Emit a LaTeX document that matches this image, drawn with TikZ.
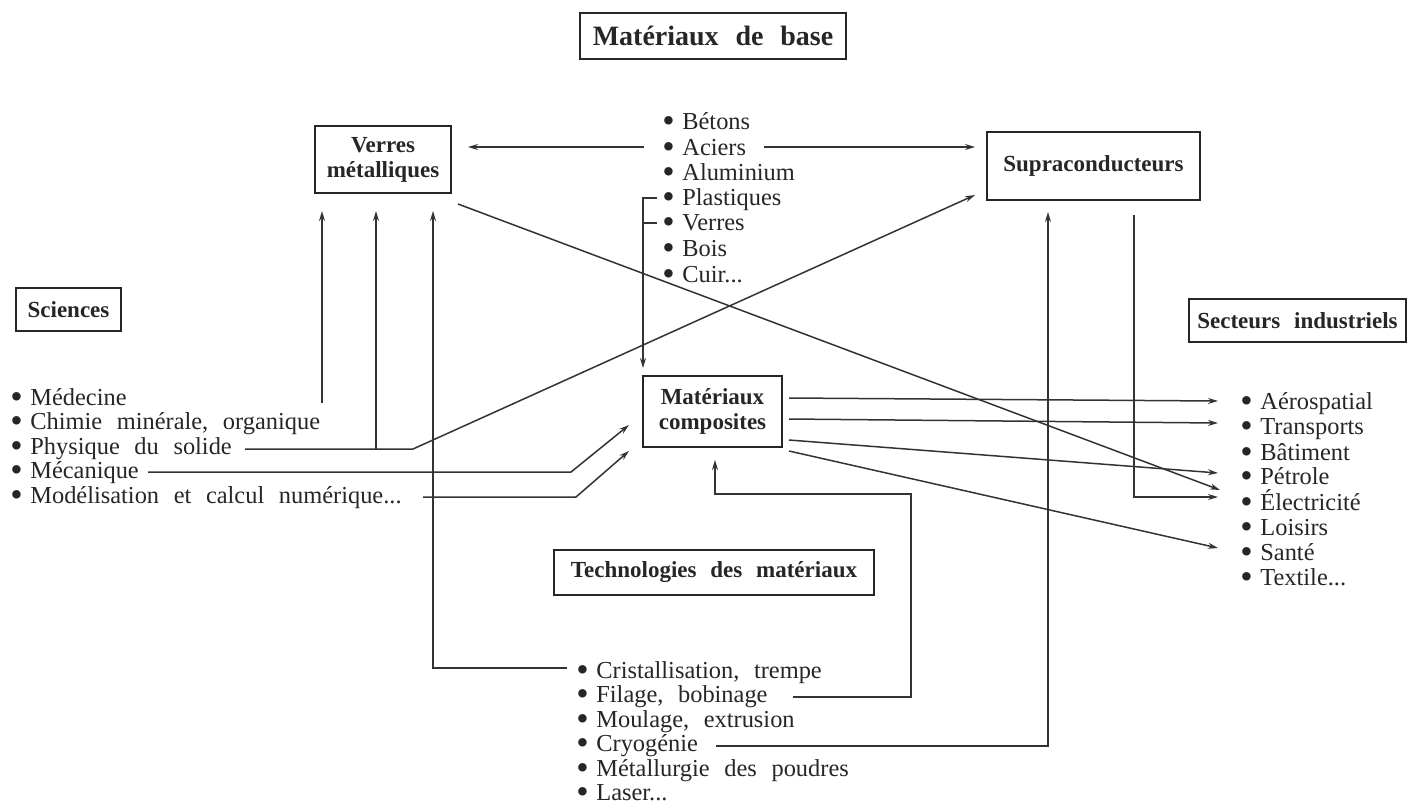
\documentclass[tikz,border=0pt]{standalone}
\usepackage{fontspec}
\setmainfont{Liberation Serif}[WordSpace=2.4]
\usetikzlibrary{arrows.meta}
\newcommand\bul[1]{\raisebox{-0.14em}{\scalebox{1.45}{\textbullet}}\hspace{3.8pt}#1}
\begin{document}
\begin{tikzpicture}[x=0.5pt,y=-0.5pt,
  conn/.style={line width=0.75pt, draw=black!80},
  arr/.style={conn,-{Stealth[length=5pt,width=3pt]}},
  box/.style={draw=black!85,line width=0.9pt,inner sep=0pt,align=center,text=black!85,
    font=\fontsize{11.5}{12.5}\selectfont\bfseries},
  item/.style={anchor=base west,inner sep=0pt,text=black!85,font=\fontsize{12.2}{14}\selectfont,
    text height=0.68em,text depth=0.18em},
]
\useasboundingbox (0,0) rectangle (1410,811);

% ---------- boxes
\node[box, minimum width=133pt, minimum height=23pt, font=\fontsize{14}{16}\selectfont\bfseries] (base) at (713,36) {Matériaux de base};
\node[box, minimum width=68pt, minimum height=33.5pt] (verres) at (383,159.5) {Verres\\métalliques};
\node[box, minimum width=106.5pt, minimum height=34pt] (supra) at (1093.5,166) {Supraconducteurs};
\node[box, minimum width=108.5pt, minimum height=21.5pt] (secteurs) at (1297.5,320.5) {Secteurs industriels};
\node[box, minimum width=52.5pt, minimum height=21.5pt] (sciences) at (68.5,309.5) {Sciences};
\node[box, minimum width=69.5pt, minimum height=35.5pt] (compo) at (712.5,411.5) {Matériaux\\composites};
\node[box, minimum width=160pt, minimum height=22.5pt] (techno) at (714,572.5) {Technologies des matériaux};

% ---------- lists: materials
\node[item] (betons) at (662,129) {\bul{Bétons}};
\node[item] (aciers) at (662,155) {\bul{Aciers}};
\node[item] (alu) at (662,180) {\bul{Aluminium}};
\node[item] (plast) at (662,205) {\bul{Plastiques}};
\node[item] (verr) at (662,230) {\bul{Verres}};
\node[item] (bois) at (662,256) {\bul{Bois}};
\node[item] (cuir) at (662,282) {\bul{Cuir...}};

% ---------- sciences
\node[item] (medecine) at (10,405) {\bul{Médecine}};
\node[item] (chimie) at (10,429.5) {\bul{Chimie minérale, organique}};
\node[item] (physique) at (10,454) {\bul{Physique du solide}};
\node[item] (mecanique) at (10,478.5) {\bul{Mécanique}};
\node[item] (modelis) at (10,503) {\bul{Modélisation et calcul numérique...}};

% ---------- sectors
\node[item] (aero) at (1240,409) {\bul{Aérospatial}};
\node[item] (transp) at (1240,434) {\bul{Transports}};
\node[item] (batim) at (1240,460) {\bul{Bâtiment}};
\node[item] (petrole) at (1240,484) {\bul{Pétrole}};
\node[item] (electr) at (1240,510) {\bul{Électricité}};
\node[item] (loisirs) at (1240,535) {\bul{Loisirs}};
\node[item] (sante) at (1240,560) {\bul{Santé}};
\node[item] (textile) at (1240,585) {\bul{Textile...}};

% ---------- technologies
\node[item] (cristal) at (576,678) {\bul{Cristallisation, trempe}};
\node[item] (filage) at (576,702.5) {\bul{Filage, bobinage}};
\node[item] (moulage) at (576,727) {\bul{Moulage, extrusion}};
\node[item] (cryo) at (576,751.5) {\bul{Cryogénie}};
\node[item] (metal) at (576,776) {\bul{Métallurgie des poudres}};
\node[item] (laser) at (576,800) {\bul{Laser...}};

% ---------- coordinates
\coordinate (acl) at (644,147);  \coordinate (vin) at (468,147);
\coordinate (acr) at (764,147);  \coordinate (sin) at (975,147);
\coordinate (pl1) at (657,198);  \coordinate (brk) at (643,198);
\coordinate (pl2) at (657,223);  \coordinate (brk2) at (643,223);
\coordinate (ctop) at (643,368);
\coordinate (v1b) at (322,403);  \coordinate (v1t) at (322,211);
\coordinate (v2b) at (376,449);  \coordinate (v2t) at (376,211);
\coordinate (v3b) at (433,668);  \coordinate (v3t) at (433,211);
\coordinate (cr) at (567,668);
\coordinate (ph0) at (245,449);  \coordinate (ph1) at (413,449);  \coordinate (stip) at (975,195);
\coordinate (me0) at (148,472);  \coordinate (me1) at (571,472);  \coordinate (ct1) at (629,425);
\coordinate (mo0) at (423,497);  \coordinate (mo1) at (576,497);  \coordinate (ct2) at (629,451);
\coordinate (vd0) at (458,204);  \coordinate (el1) at (1220,490);
\coordinate (co1) at (789,398);  \coordinate (ae) at (1218,401);
\coordinate (co2) at (789,419);  \coordinate (tr) at (1218,423);
\coordinate (co3) at (789,440);  \coordinate (pe) at (1218,473);
\coordinate (co4) at (789,451);  \coordinate (sa) at (1218,548);
\coordinate (sd0) at (1134,215); \coordinate (sd1) at (1134,497); \coordinate (el2) at (1218,497);
\coordinate (cy0) at (716,746);  \coordinate (cy1) at (1048,746); \coordinate (su1) at (1048,212);
\coordinate (fi0) at (793,697);  \coordinate (fi1) at (911,697);
\coordinate (fi2) at (911,494);  \coordinate (fi3) at (715,494);  \coordinate (cb) at (715,460);

% ---------- connectors
\draw[arr] (acl) -- (vin);
\draw[arr] (acr) -- (sin);
\draw[arr] (pl1) -- (brk) -- (ctop);
\draw[conn] (pl2) -- (brk2);
\draw[arr] (v1b) -- (v1t);
\draw[arr] (v2b) -- (v2t);
\draw[arr] (cr) -- (v3b) -- (v3t);
\draw[arr] (ph0) -- (ph1) -- (stip);
\draw[arr] (me0) -- (me1) -- (ct1);
\draw[arr] (mo0) -- (mo1) -- (ct2);
\draw[arr] (vd0) -- (el1);
\draw[arr] (co1) -- (ae);
\draw[arr] (co2) -- (tr);
\draw[arr] (co3) -- (pe);
\draw[arr] (co4) -- (sa);
\draw[arr] (sd0) -- (sd1) -- (el2);
\draw[arr] (cy0) -- (cy1) -- (su1);
\draw[arr] (fi0) -- (fi1) -- (fi2) -- (fi3) -- (cb);
\end{tikzpicture}
\end{document}
